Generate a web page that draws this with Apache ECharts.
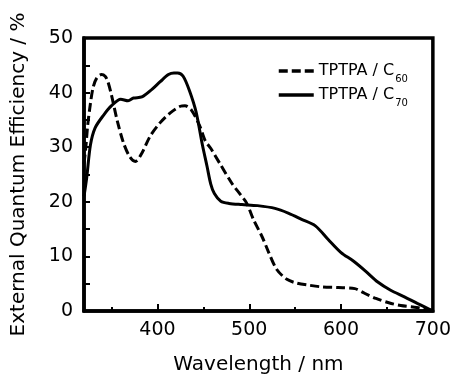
<!DOCTYPE html>
<html>
<head>
<meta charset="utf-8">
<script src="https://cdn.jsdelivr.net/npm/echarts@6/dist/echarts.min.js"></script>
<style>
html,body{margin:0;padding:0;background:#fff;}
#chart{width:454px;height:380px;}
</style>
</head>
<body>
<div id="chart"></div>
<script>
// Data
const seriesNames = ['TPTPA / C60', 'TPTPA / C70'];
const c60Wavelength = [320, 322, 324, 327, 330, 334, 339, 343, 346, 350, 356, 363, 370, 376, 383, 392, 403, 414, 425, 430, 437, 446, 452, 458, 468, 481, 490, 497, 505, 514, 521, 530, 541, 552, 566, 580, 597, 615, 625, 638, 652, 665, 680, 690, 700];
const c60EQE =       [27, 30, 34, 38, 41, 42.7, 43.3, 43, 42, 39.5, 35, 30.8, 28.2, 27.4, 28.9, 32, 34.5, 36.3, 37.5, 37.6, 36.8, 33.9, 31.2, 29.8, 27, 23.4, 21.4, 19.8, 16.6, 13.6, 10.8, 7.6, 5.8, 5.1, 4.7, 4.4, 4.3, 4.1, 3.3, 2.3, 1.5, 1.0, 0.7, 0.4, 0.1];
const c70Wavelength = [320, 323, 327, 332, 341, 350, 360, 368, 374, 383, 394, 403, 412, 418, 422, 428, 435, 442, 449, 454, 458, 462, 469, 478, 492, 509, 528, 543, 557, 572, 586, 600, 613, 626, 640, 654, 669, 683, 700];
const c70EQE =       [21, 24.5, 30.4, 33.5, 35.8, 37.6, 38.8, 38.5, 39, 39.2, 40.6, 42, 43.3, 43.6, 43.6, 43, 40.3, 36.5, 30.4, 26.5, 23.3, 21.5, 20.1, 19.7, 19.5, 19.3, 18.8, 17.9, 16.8, 15.6, 13.1, 10.7, 9.2, 7.4, 5.3, 3.8, 2.6, 1.4, 0];
const xMin = 320, xMax = 700;
const xLabelValues = [400, 500, 600, 700];
const xMinorTickValues = [350, 450, 550, 650];
const yMin = 0, yMax = 50, yInterval = 10;
const xTitle = 'Wavelength / nm';
const yTitle = 'External Quantum Efficiency / %';

const pair = (xs, ys) => xs.map((x, i) => [x, ys[i]]);
const FONT = 'DejaVu Sans';

const chart = echarts.init(document.getElementById('chart'), null, {renderer: 'canvas'});
chart.setOption({
  animation: false,
  backgroundColor: '#fff',
  color: ['#000', '#000'],
  grid: {left: 84, right: 17, top: 38, bottom: 64, show: true, borderColor: '#000', borderWidth: 3.5, backgroundColor: 'transparent'},
  legend: {
    orient: 'vertical', left: 272, top: 58, itemWidth: 35, itemHeight: 14, itemGap: 3,
    data: seriesNames,
    itemStyle: {opacity: 0},
    lineStyle: {width: 3.5},
    formatter: n => '{a|' + n.replace(/\d+$/, '') + '}{s|' + n.match(/\d+$/)[0] + '}',
    textStyle: {
      fontFamily: FONT, color: '#000',
      rich: {
        a: {fontFamily: FONT, fontSize: 16, color: '#000', lineHeight: 26, verticalAlign: 'middle'},
        s: {fontFamily: FONT, fontSize: 10, color: '#000', lineHeight: 26, verticalAlign: 'bottom', padding: [0, 0, 0, 1]}
      }
    }
  },
  xAxis: [{
    type: 'value', min: xMin, max: xMax,
    splitLine: {show: false},
    axisLine: {show: true, onZero: false, lineStyle: {color: '#000', width: 3.5}},
    axisTick: {show: true, inside: true, length: 7, customValues: xLabelValues, lineStyle: {color: '#000', width: 2}},
    axisLabel: {customValues: xLabelValues, fontFamily: FONT, fontSize: 19, color: '#000', margin: 10, showMinLabel: true, showMaxLabel: true},
    name: xTitle, nameLocation: 'middle', nameGap: 44,
    nameTextStyle: {fontFamily: FONT, fontSize: 20, color: '#000'}
  }, {
    type: 'value', min: xMin, max: xMax, position: 'bottom',
    splitLine: {show: false},
    axisLine: {show: false},
    axisTick: {show: true, inside: true, length: 4, customValues: xMinorTickValues, lineStyle: {color: '#000', width: 2}},
    axisLabel: {show: false}
  }],
  yAxis: {
    type: 'value', min: yMin, max: yMax, interval: yInterval,
    splitLine: {show: false},
    axisLine: {show: true, onZero: false, lineStyle: {color: '#000', width: 3.5}},
    axisTick: {show: true, inside: true, length: 6, lineStyle: {color: '#000', width: 2}},
    minorTick: {show: true, splitNumber: 2, length: 6, lineStyle: {color: '#000', width: 2}},
    axisLabel: {fontFamily: FONT, fontSize: 19, color: '#000', margin: 11},
    name: yTitle, nameLocation: 'middle', nameGap: 55,
    nameTextStyle: {fontFamily: FONT, fontSize: 20, color: '#000'}
  },
  series: [{
    name: seriesNames[0], type: 'line', xAxisIndex: 0, data: pair(c60Wavelength, c60EQE),
    symbol: 'none', smooth: 0.3, clip: true,
    itemStyle: {color: '#000'},
    lineStyle: {color: '#000', width: 3, type: [9, 4]}
  }, {
    name: seriesNames[1], type: 'line', xAxisIndex: 0, data: pair(c70Wavelength, c70EQE),
    symbol: 'none', smooth: 0.3, clip: true,
    itemStyle: {color: '#000'},
    lineStyle: {color: '#000', width: 3, type: 'solid'}
  }]
});
</script>
</body>
</html>
